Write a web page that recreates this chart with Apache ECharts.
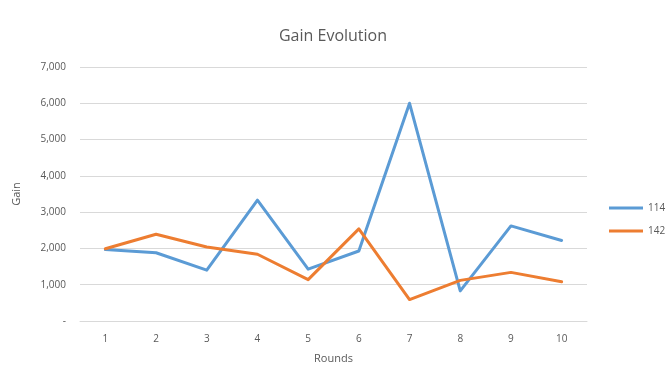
<!DOCTYPE html>
<html>
<head>
<meta charset="utf-8">
<script src="https://cdn.jsdelivr.net/npm/echarts@6/dist/echarts.min.js"></script>
<style>
  html, body { margin: 0; padding: 0; background: #fff; }
  #chart { width: 666px; height: 380px; }
</style>
</head>
<body>
<div id="chart"></div>
<script>
// Rounds on the x axis
const rounds = ['1', '2', '3', '4', '5', '6', '7', '8', '9', '10'];
// Gain per round for each player
const gain114 = [1970, 1880, 1400, 3330, 1430, 1930, 6000, 830, 2620, 2220];
const gain142 = [1990, 2390, 2040, 1840, 1140, 2540, 590, 1120, 1340, 1080];
const seriesNames = ['114', '142'];

const textColor = '#595959';
const font = 'Open Sans';

const chart = echarts.init(document.getElementById('chart'), null, { renderer: 'canvas' });

chart.setOption({
  animation: false,
  backgroundColor: '#ffffff',
  title: {
    text: 'Gain Evolution',
    left: 'center',
    top: 23,
    textStyle: { fontFamily: font, fontSize: 16, fontWeight: 'normal', color: textColor }
  },
  legend: {
    orient: 'vertical',
    left: 604,
    top: 198,
    padding: 5,
    icon: 'rect',
    itemWidth: 34,
    itemHeight: 3,
    itemGap: 13,
    textStyle: { fontFamily: font, fontSize: 10, color: textColor },
    data: seriesNames
  },
  grid: { left: 80, right: 79, top: 67, bottom: 59, containLabel: false },
  xAxis: {
    type: 'category',
    data: rounds,
    boundaryGap: true,
    name: 'Rounds',
    nameLocation: 'middle',
    nameGap: 32,
    nameTextStyle: { fontFamily: font, fontSize: 11, color: textColor },
    axisLine: { show: true, lineStyle: { color: '#d9d9d9', width: 1 } },
    axisTick: { show: false },
    axisLabel: { fontFamily: font, fontSize: 10, color: textColor, margin: 13 }
  },
  yAxis: {
    type: 'value',
    min: 0,
    max: 7000,
    interval: 1000,
    name: 'Gain',
    nameLocation: 'middle',
    nameGap: 58,
    nameRotate: 90,
    nameTextStyle: { fontFamily: font, fontSize: 11, color: textColor },
    axisLine: { show: false },
    axisTick: { show: false },
    splitLine: { lineStyle: { color: '#d9d9d9', width: 1 } },
    axisLabel: {
      fontFamily: font,
      fontSize: 10,
      color: textColor,
      margin: 14,
      formatter: v => v === 0 ? '-' : v.toLocaleString('en-US')
    }
  },
  series: [
    {
      name: seriesNames[0],
      type: 'line',
      data: gain114,
      symbol: 'none',
      lineStyle: { color: '#5B9BD5', width: 3, cap: 'round', join: 'round' },
      itemStyle: { color: '#5B9BD5' }
    },
    {
      name: seriesNames[1],
      type: 'line',
      data: gain142,
      symbol: 'none',
      lineStyle: { color: '#ED7D31', width: 3, cap: 'round', join: 'round' },
      itemStyle: { color: '#ED7D31' }
    }
  ]
});
</script>
</body>
</html>
